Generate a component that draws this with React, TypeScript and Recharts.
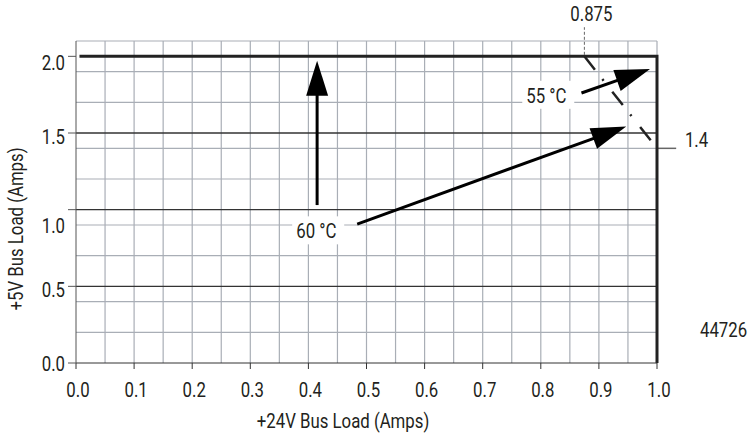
import { LineChart, Line, XAxis, YAxis, CartesianGrid, ReferenceLine, ReferenceDot, Label } from 'recharts';

const FONT = "Roboto, 'Liberation Sans', sans-serif";
const FS = 21;
const SQUEEZE = 0.8; // the print uses a condensed face
const INK = '#231f20';
const GRID = '#a9aeb6';

// axis ticks
const xTicks = [0, 0.1, 0.2, 0.3, 0.4, 0.5, 0.6, 0.7, 0.8, 0.9, 1.0];
const yTicks = [0, 0.5, 1.0, 1.5, 2.0];

// graph paper
const xGrid = [0.05, 0.1, 0.15, 0.2, 0.25, 0.3, 0.35, 0.4, 0.45, 0.5, 0.55, 0.6, 0.65, 0.7, 0.75, 0.8, 0.85, 0.9, 0.95, 1.0];
const yGrid = [0.1, 0.2, 0.3, 0.4, 0.6, 0.7, 0.8, 0.9, 1.1, 1.2, 1.3, 1.4, 1.6, 1.7, 1.8, 1.9, 2.1];
const yMajor = [0.5, 1.0, 1.5];

// derating curves
const limit55 = [
  { x: 0.006, y: 2.0 },
  { x: 1.0, y: 2.0 },
  { x: 1.0, y: 0 },
];
const limit60 = [
  { x: 0.875, y: 2.0 },
  { x: 1.0, y: 1.4 },
];

// callout arrows (tail, tip)
const arrow60Up = [
  { x: 0.415, y: 1.03 },
  { x: 0.415, y: 1.972 },
];
const arrow60Diag = [
  { x: 0.484, y: 0.906 },
  { x: 0.947, y: 1.542 },
];
const arrow55 = [
  { x: 0.87, y: 1.761 },
  { x: 0.988, y: 1.918 },
];

const notes = [
  { text: '0.875', x: 0.887, y: 2.229, anchor: 'middle', box: false },
  { text: '1.4', x: 1.048, y: 1.41, anchor: 'start', box: false },
  { text: '44726', x: 1.074, y: 0.171, anchor: 'start', box: false },
  { text: '60 °C', x: 0.379, y: 0.813, anchor: 'start', box: true },
  { text: '55 °C', x: 0.775, y: 1.697, anchor: 'start', box: true },
];

// small vertical nudges of the y tick labels, as printed
const yLabelShift: Record<string, number> = { '0': 0, '0.5': 3, '1': 16, '1.5': 3, '2': 6 };

const HEAD_LEN = 35;
const HEAD_W = 22;

const CText = ({ x, y, anchor = 'start', rotate = 0, children }: any) => (
  <text
    transform={`translate(${x},${y}) rotate(${rotate}) scale(${SQUEEZE},1)`}
    textAnchor={anchor}
    fontFamily={FONT}
    fontSize={FS}
    fill={INK}
  >
    {children}
  </text>
);

const ArrowDot = (props: any) => {
  const { index, points, cx, cy } = props;
  if (!points || index !== points.length - 1) return <g key={`a-${index}`} />;
  const p0 = points[0];
  const dx = cx - p0.x;
  const dy = cy - p0.y;
  const len = Math.sqrt(dx * dx + dy * dy) || 1;
  const ux = dx / len;
  const uy = dy / len;
  const bx = cx - ux * HEAD_LEN;
  const by = cy - uy * HEAD_LEN;
  const px = -uy * (HEAD_W / 2);
  const py = ux * (HEAD_W / 2);
  return (
    <g key={`a-${index}`}>
      <line x1={p0.x} y1={p0.y} x2={bx + ux * 2} y2={by + uy * 2} stroke="#000" strokeWidth={3} />
      <polygon points={`${cx},${cy} ${bx + px},${by + py} ${bx - px},${by - py}`} fill="#000" />
    </g>
  );
};

const NoteShape = (note: (typeof notes)[number]) => (props: any) => {
  const { cx, cy } = props;
  const w = note.text.length * 8.6 + 9;
  return (
    <g>
      {note.box && <rect x={cx - 4} y={cy - 22} width={w} height={28} fill="#fff" />}
      <CText x={cx} y={cy} anchor={note.anchor}>
        {note.text}
      </CText>
    </g>
  );
};

const XTick = (props: any) => {
  const { x, y, payload } = props;
  return (
    <CText x={x + 2} y={y + 26} anchor="middle">
      {payload.value.toFixed(1)}
    </CText>
  );
};

const YTick = (props: any) => {
  const { x, y, payload } = props;
  const shift = yLabelShift[String(payload.value)] || 0;
  return (
    <CText x={x} y={y + shift + 7.5} anchor="end">
      {payload.value.toFixed(1)}
    </CText>
  );
};

const XTitle = () => (
  <CText x={343} y={428} anchor="middle">
    +24V Bus Load (Amps)
  </CText>
);

const YTitle = () => (
  <CText x={23} y={229} anchor="middle" rotate={-90}>
    +5V Bus Load (Amps)
  </CText>
);

export default function App() {
  return (
    <div style={{ position: 'absolute', left: 0, top: 0, width: 753, height: 435, background: '#fff' }}>
      <LineChart width={753} height={435} margin={{ top: 41, right: 96, bottom: 0, left: 0 }}>
        <CartesianGrid stroke={GRID} strokeWidth={1.2} horizontalValues={yGrid} verticalValues={xGrid} />
        {yMajor.map((v) => (
          <ReferenceLine key={v} y={v} stroke="#333" strokeWidth={1.3} />
        ))}
        <XAxis
          type="number"
          dataKey="x"
          domain={[0, 1]}
          ticks={xTicks}
          height={72}
          tickSize={6}
          tickMargin={2}
          stroke="#333"
          tick={<XTick />}
          label={<Label content={<XTitle />} />}
        />
        <YAxis
          type="number"
          dataKey="y"
          domain={[0, 2.1]}
          ticks={yTicks}
          width={76}
          tickSize={8}
          tickMargin={3}
          stroke="#555"
          tick={<YTick />}
          label={<Label content={<YTitle />} />}
        />
        <ReferenceLine
          segment={[{ x: 0.875, y: 2.01 }, { x: 0.875, y: 2.19 }]}
          stroke="#666"
          strokeDasharray="3 2"
          ifOverflow="visible"
        />
        <ReferenceLine
          segment={[{ x: 1.0, y: 1.4 }, { x: 1.033, y: 1.4 }]}
          stroke="#666"
          strokeWidth={1.5}
          ifOverflow="visible"
        />
        <Line
          data={limit55}
          dataKey="y"
          stroke="#222"
          strokeWidth={3}
          dot={false}
          activeDot={false}
          isAnimationActive={false}
        />
        <Line
          data={limit60}
          dataKey="y"
          stroke="#222"
          strokeWidth={2.5}
          strokeDasharray="17 12 2 14"
          dot={false}
          activeDot={false}
          isAnimationActive={false}
        />
        {[arrow60Up, arrow60Diag, arrow55].map((a, i) => (
          <Line
            key={i}
            data={a}
            dataKey="y"
            stroke="none"
            dot={<ArrowDot />}
            activeDot={false}
            isAnimationActive={false}
          />
        ))}
        {notes.map((n) => (
          <ReferenceDot key={n.text} x={n.x} y={n.y} r={0} ifOverflow="visible" shape={NoteShape(n)} />
        ))}
      </LineChart>
    </div>
  );
}
